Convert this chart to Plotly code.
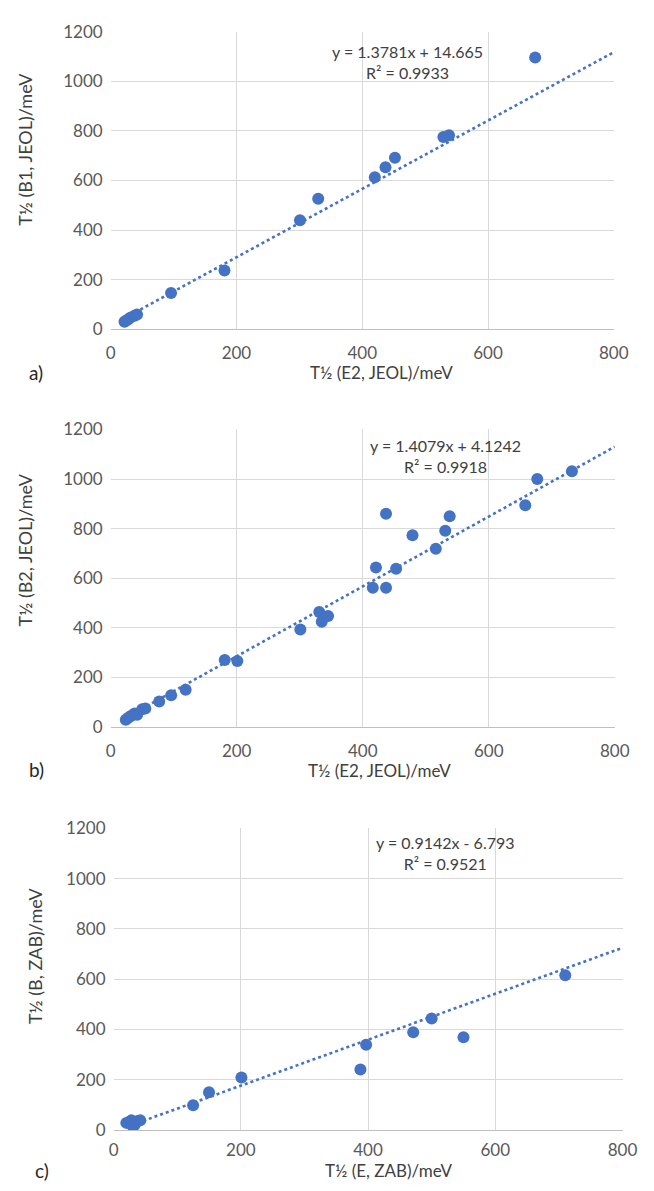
import plotly.graph_objects as go

# ---- data ----
a_x = [22, 25, 28, 32, 38, 42, 96, 181, 301, 330, 420, 437, 452, 529, 538, 675]
a_y = [30, 35, 40, 48, 55, 60, 146, 237, 440, 526, 613, 653, 692, 775, 782, 1096]

b_x = [24, 28, 32, 38, 42, 50, 55, 77, 96, 119, 181, 201, 301, 331, 335, 345,
       416, 421, 437, 437, 453, 479, 516, 531, 538, 658, 677, 732]
b_y = [30, 38, 45, 55, 50, 72, 75, 103, 129, 151, 271, 267, 394, 464, 425, 448,
       562, 644, 860, 562, 639, 774, 719, 792, 850, 895, 1000, 1032]

c_x = [20, 25, 28, 30, 33, 35, 38, 42, 125, 150, 201, 388, 397, 471, 500, 550, 710]
c_y = [28, 32, 38, 15, 20, 30, 35, 38, 98, 150, 209, 240, 339, 389, 443, 369, 615]

slopes = [1.3781, 1.4079, 0.9142]
intercepts = [14.665, 4.1242, -6.793]
eq_text = ["y = 1.3781x + 14.665<br>R² = 0.9933",
           "y = 1.4079x + 4.1242<br>R² = 0.9918",
           "y = 0.9142x - 6.793<br>R² = 0.9521"]
eq_pos = [(472, 1079), (532, 1095), (521, 1101)]
x_titles = ["T½ (E2, JEOL)/meV", "T½ (E2, JEOL)/meV", "T½ (E, ZAB)/meV"]
y_titles = ["T½ (B1, JEOL)/meV", "T½ (B2, JEOL)/meV", "T½ (B, ZAB)/meV"]
panel_labels = ["a)", "b)", "c)"]
x_ticks = [0, 200, 400, 600, 800]
y_ticks = [0, 200, 400, 600, 800, 1000, 1200]

W, H = 654, 1191
BLUE = "#4472C4"
GRID = "#D9D9D9"
TICK = "#595959"
TITLE = "#404040"
FONT = "Lato, 'Open Sans', sans-serif"

# plot-area pixel boxes (left, right, top, bottom)
boxes = [(109, 628, 21, 324), (109, 629, 426, 729), (112, 637, 832, 1139)]
xtick_standoff = [8, 8, 5]
# axis-title / panel-label pixel positions
xtitle_pos = [(430, 368), (427, 773), (432, 1180)]   # (data x, pixel y)
ytitle_pos = [(21, 725), (21, 714), (31, 692)]       # (pixel x, data y)
label_pos = [(23, 368), (23, 772), (29, 1180)]

fig = go.Figure()
datasets = [(a_x, a_y), (b_x, b_y), (c_x, c_y)]
for i, ((xs, ys), (l, r, t, b)) in enumerate(zip(datasets, boxes)):
    n = "" if i == 0 else str(i + 1)
    xa, ya = "x" + n, "y" + n
    x0 = min(xs)
    x1 = 800
    fig.add_trace(go.Scatter(
        x=[x0, x1], y=[slopes[i] * x0 + intercepts[i], slopes[i] * x1 + intercepts[i]],
        mode="lines", line=dict(color=BLUE, width=2.6, dash="dot"),
        xaxis=xa, yaxis=ya, showlegend=False, hoverinfo="skip"))
    fig.add_trace(go.Scatter(
        x=xs, y=ys, mode="markers",
        marker=dict(color=BLUE, size=12, line=dict(width=0)),
        xaxis=xa, yaxis=ya, showlegend=False))
    fig.layout["xaxis" + n] = dict(
        domain=[l / W, r / W], range=[0, 800], tickvals=x_ticks,
        anchor=ya, showgrid=True, gridcolor=GRID, gridwidth=1.3,
        zeroline=False, showline=True, linecolor="#BFBFBF", linewidth=1.3,
        ticks="", ticklabelstandoff=xtick_standoff[i],
        tickfont=dict(size=17, color=TICK, family=FONT),
        fixedrange=True)
    fig.layout["yaxis" + n] = dict(
        domain=[1 - b / H, 1 - t / H], range=[0, 1200], tickvals=y_ticks,
        anchor=xa, showgrid=True, gridcolor=GRID, gridwidth=1.3,
        zeroline=False, showline=False,
        ticks="", ticklabelstandoff=7,
        tickfont=dict(size=17, color=TICK, family=FONT),
        fixedrange=True)
    # trendline equation
    fig.add_annotation(
        x=eq_pos[i][0], y=eq_pos[i][1], xref=xa, yref=ya,
        text=eq_text[i], showarrow=False, align="center",
        xanchor="center", yanchor="middle",
        font=dict(size=16, color=TITLE, family=FONT))
    # x-axis title
    fig.add_annotation(
        x=xtitle_pos[i][0], xref=xa, y=1 - xtitle_pos[i][1] / H, yref="paper",
        text=x_titles[i], showarrow=False, xanchor="center", yanchor="middle",
        font=dict(size=17, color=TITLE, family=FONT))
    # y-axis title
    fig.add_annotation(
        x=ytitle_pos[i][0] / W, xref="paper", y=ytitle_pos[i][1], yref=ya,
        text=y_titles[i], showarrow=False, textangle=-90,
        xanchor="center", yanchor="middle",
        font=dict(size=18, color=TITLE, family=FONT))
    # panel label
    fig.add_annotation(
        x=label_pos[i][0] / W, y=1 - label_pos[i][1] / H, xref="paper", yref="paper",
        text=panel_labels[i], showarrow=False, xanchor="left", yanchor="middle",
        font=dict(size=19, color="#262626", family=FONT))

fig.update_layout(
    width=W, height=H, margin=dict(l=0, r=0, t=0, b=0),
    paper_bgcolor="white", plot_bgcolor="white",
    font=dict(family=FONT))

fig.write_html("out.html", config={"displayModeBar": False},
               post_script="document.body.style.margin='0px';")
